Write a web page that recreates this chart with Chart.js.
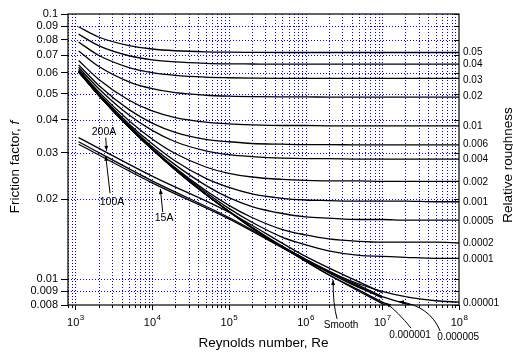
<!DOCTYPE html>
<html><head><meta charset="utf-8">
<script src="https://cdn.jsdelivr.net/npm/chart.js@4/dist/chart.umd.min.js"></script>
<style>html,body{margin:0;padding:0;background:#fff;}#c{display:block;}</style>
</head><body>
<canvas id="c" width="513" height="352"></canvas>
<script>
// ---------- data ----------
const reynolds = [1100, 2000, 5000, 1e4, 2e4, 5e4, 1e5, 2e5, 5e5, 1e6, 2e6, 5e6, 1e7, 2e7, 5e7, 1e8];

const f_0_05     = [0.0895,0.0819,0.0760,0.0738,0.0727,0.0720,0.0718,0.0717,0.0716,0.0716,0.0716,0.0716,0.0716,0.0716,0.0716,0.0716];
const f_0_04     = [0.0840,0.0760,0.0696,0.0672,0.0660,0.0652,0.0649,0.0648,0.0647,0.0647,0.0647,0.0647,0.0647,0.0647,0.0647,0.0647];
const f_0_03     = [0.0784,0.0699,0.0628,0.0601,0.0587,0.0578,0.0575,0.0573,0.0572,0.0572,0.0572,0.0572,0.0572,0.0572,0.0572,0.0572];
const f_0_02     = [0.0726,0.0635,0.0555,0.0523,0.0505,0.0494,0.0490,0.0488,0.0487,0.0487,0.0486,0.0486,0.0486,0.0486,0.0486,0.0486];
const f_0_01     = [0.0668,0.0568,0.0473,0.0431,0.0407,0.0391,0.0385,0.0382,0.0380,0.0380,0.0379,0.0379,0.0379,0.0379,0.0379,0.0379];
const f_0_006    = [0.0643,0.0539,0.0436,0.0388,0.0358,0.0337,0.0330,0.0325,0.0323,0.0322,0.0322,0.0321,0.0321,0.0321,0.0321,0.0321];
const f_0_004    = [0.0630,0.0524,0.0416,0.0364,0.0330,0.0305,0.0295,0.0290,0.0286,0.0285,0.0285,0.0284,0.0284,0.0284,0.0284,0.0284];
const f_0_002    = [0.0619,0.0510,0.0396,0.0338,0.0298,0.0265,0.0251,0.0243,0.0238,0.0236,0.0235,0.0235,0.0234,0.0234,0.0234,0.0234];
const f_0_001    = [0.0612,0.0503,0.0385,0.0324,0.0279,0.0240,0.0222,0.0210,0.0202,0.0199,0.0198,0.0197,0.0197,0.0197,0.0196,0.0196];
const f_0_0005   = [0.0609,0.0498,0.0380,0.0316,0.0270,0.0226,0.0203,0.0188,0.0177,0.0172,0.0170,0.0168,0.0168,0.0167,0.0167,0.0167];
const f_0_0002   = [0.0607,0.0496,0.0376,0.0312,0.0263,0.0216,0.0190,0.0171,0.0154,0.0147,0.0142,0.0139,0.0138,0.0138,0.0138,0.0137];
const f_0_0001   = [0.0606,0.0495,0.0375,0.0310,0.0261,0.0213,0.0185,0.0164,0.0144,0.0135,0.0128,0.0123,0.0122,0.0121,0.0120,0.0120];
const f_0_00001  = [0.0606,0.0495,0.0374,0.0309,0.0259,0.0209,0.0181,0.0157,0.0133,0.0119,0.0107,0.0096,0.0090,0.0086,0.0083,0.0082];
const f_0_000005 = [0.0606,0.0495,0.0374,0.0309,0.0259,0.0209,0.0180,0.0157,0.0132,0.0118,0.0106,0.0093,0.0086,0.0081,0.0077,null];
const f_0_000001 = [0.0606,0.0495,0.0374,0.0309,0.0259,0.0209,0.0180,0.0156,0.0132,0.0117,0.0104,0.0091,0.0082,0.0075,null,null];
const f_smooth   = [0.0606,0.0495,0.0374,0.0309,0.0259,0.0209,0.0180,0.0156,0.0132,0.0117,0.0104,0.0090,0.0081,0.0073,null,null];

const pipeReynolds = [1100, 1e4, 1e5, 1e6, 1e7];
const f_200A = [0.0342, 0.0245, 0.0179, 0.0122, 0.0089];
const f_100A = [0.0330, 0.0235, 0.0171, 0.0119, 0.0086];
const f_15A  = [0.0323, 0.0231, 0.0169, 0.0118, 0.0085];

const yTickValues = [0.008,0.009,0.01,0.02,0.03,0.04,0.05,0.06,0.07,0.08,0.09,0.1];
const yTickLabels = ['0.008','0.009','0.01','0.02','0.03','0.04','0.05','0.06','0.07','0.08','0.09','0.1'];
const yGridValues = [0.009,0.01,0.02,0.03,0.04,0.05,0.06,0.07,0.08,0.09];
const xTickExponents = [3,4,5,6,7,8];

const roughnessLabels = ['0.05','0.04','0.03','0.02','0.01','0.006','0.004','0.002','0.001','0.0005','0.0002','0.0001','0.00001'];
const roughnessLabelAt = [0.0719,0.0648,0.0565,0.0488,0.0379,0.0322,0.0284,0.0232,0.0196,0.0166,0.0137,0.0119,0.0081];

// annotation texts with arrows (positions in data units: [Re, f])
const notes = [
  {text:'200A', at:[2360,0.0358], from:[2483,0.0342], to:[2544,0.0305]},
  {text:'100A', at:[3000,0.0196], from:[2826,0.0211], to:[2483,0.0292]},
  {text:'15A', at:[14290,0.0170], from:[13750,0.0179], to:[12800,0.0219]},
  {text:'Smooth', at:[2.90e6,0.00672], from:[2.575e6,0.00709], via:[2.28e6,0.0080], to:[2.283e6,0.00994]},
  {text:'0.000001', at:[2.30e7,0.00617], from:[2.367e7,0.00655], via:[1.607e7,0.00753], to:[1.117e7,0.00814]},
  {text:'0.000005', at:[9.77e7,0.00606], from:[5.685e7,0.00638], via:[4.2e7,0.00793], to:[1.646e7,0.00825]}
];

// ---------- build datasets ----------
const curveSeries = [f_0_05,f_0_04,f_0_03,f_0_02,f_0_01,f_0_006,f_0_004,f_0_002,f_0_001,f_0_0005,f_0_0002,f_0_0001,f_0_00001,f_0_000005,f_0_000001,f_smooth];
const toPoints = (xs, ys) => xs.map((x,i)=>({x, y: ys[i]})).filter(p => p.y !== null);
const datasets = curveSeries.map(vals => ({
  data: toPoints(reynolds, vals), borderColor:'#000', borderWidth:1.3,
  pointRadius:0, fill:false, cubicInterpolationMode:'monotone'
}));
[f_200A,f_100A,f_15A].forEach(vals => datasets.push({
  data: toPoints(pipeReynolds, vals), borderColor:'#000', borderWidth:1.3,
  pointRadius:0, fill:false, cubicInterpolationMode:'monotone'
}));

const FONT = '"Liberation Sans", Arial, Helvetica, sans-serif';

function arrowHead(ctx, fx, fy, tx, ty){
  const ang = Math.atan2(ty-fy, tx-fx), L=5, W=2;
  ctx.beginPath();
  ctx.moveTo(tx, ty);
  ctx.lineTo(tx - L*Math.cos(ang) + W*Math.sin(ang), ty - L*Math.sin(ang) - W*Math.cos(ang));
  ctx.lineTo(tx - L*Math.cos(ang) - W*Math.sin(ang), ty - L*Math.sin(ang) + W*Math.cos(ang));
  ctx.closePath(); ctx.fill();
}

const decor = {
  id:'decor',
  beforeDatasetsDraw(chart){
    const {ctx, chartArea:a, scales:{x,y}} = chart;
    ctx.save();
    ctx.beginPath(); ctx.rect(a.left,a.top,a.right-a.left,a.bottom-a.top); ctx.clip();
    ctx.strokeStyle='#0000ff'; ctx.lineWidth=1; ctx.setLineDash([1,2]);
    for (let e=2;e<=7;e++) for (let m=1;m<=9;m++){
      const v=m*Math.pow(10,e); if (v<x.min||v>=x.max) continue;
      const px=Math.round(x.getPixelForValue(v))+0.5;
      ctx.beginPath(); ctx.moveTo(px,a.top); ctx.lineTo(px,a.bottom); ctx.stroke();
    }
    yGridValues.forEach(v=>{
      const py=Math.round(y.getPixelForValue(v))+0.5;
      ctx.beginPath(); ctx.moveTo(a.left,py); ctx.lineTo(a.right,py); ctx.stroke();
    });
    ctx.restore();
  },
  afterDatasetsDraw(chart){
    const {ctx, chartArea:a, scales:{x,y}} = chart;
    ctx.save();
    // frame
    ctx.strokeStyle='#000'; ctx.lineWidth=1.2; ctx.setLineDash([]);
    ctx.strokeRect(a.left, a.top, a.right-a.left, a.bottom-a.top);
    // x ticks
    ctx.lineWidth=1;
    for (let e=2;e<=8;e++) for (let m=1;m<=9;m++){
      const v=m*Math.pow(10,e); if (v<x.min||v>x.max) continue;
      const px=Math.round(x.getPixelForValue(v))+0.5;
      const len = m===1?5:3;
      ctx.beginPath(); ctx.moveTo(px,a.bottom); ctx.lineTo(px,a.bottom+len); ctx.stroke();
    }
    // right inward ticks
    yTickValues.forEach(v=>{
      const py=Math.round(y.getPixelForValue(v))+0.5;
      ctx.beginPath(); ctx.moveTo(a.right,py); ctx.lineTo(a.right-5,py); ctx.stroke();
    });
    // x tick labels with superscripts
    ctx.fillStyle='#000'; ctx.textBaseline='alphabetic'; ctx.textAlign='left';
    xTickExponents.forEach(e=>{
      const px=x.getPixelForValue(Math.pow(10,e));
      ctx.font='11px '+FONT; const w1=ctx.measureText('10').width;
      ctx.font='8px '+FONT; const w2=ctx.measureText(String(e)).width;
      const sx=px-(w1+w2)/2;
      ctx.font='11px '+FONT; ctx.fillText('10', sx, a.bottom+21);
      ctx.font='8px '+FONT; ctx.fillText(String(e), sx+w1+0.5, a.bottom+15);
    });
    // roughness labels
    ctx.font='10px '+FONT; ctx.textBaseline='middle'; ctx.textAlign='left';
    roughnessLabels.forEach((t,i)=>{
      ctx.fillText(t, a.right+4, y.getPixelForValue(roughnessLabelAt[i]));
    });
    // axis titles
    ctx.font='13.5px '+FONT; ctx.textAlign='center'; ctx.textBaseline='middle';
    ctx.fillText('Reynolds number, Re', (a.left+a.right)/2, 343);
    ctx.save(); ctx.translate(508, 165); ctx.rotate(-Math.PI/2);
    ctx.fillText('Relative roughness', 0, 0); ctx.restore();
    ctx.save(); ctx.translate(15, 167); ctx.rotate(-Math.PI/2);
    const t1='Friction factor, ';
    ctx.font='13.5px '+FONT; const wa=ctx.measureText(t1).width;
    ctx.font='italic 13.5px '+FONT; const wb=ctx.measureText('f').width;
    ctx.textAlign='left';
    ctx.font='13.5px '+FONT; ctx.fillText(t1, -(wa+wb)/2, 0);
    ctx.font='italic 13.5px '+FONT; ctx.fillText('f', -(wa+wb)/2+wa, 0);
    ctx.restore();
    // annotations
    ctx.lineWidth=1; ctx.strokeStyle='#000'; ctx.fillStyle='#000';
    notes.forEach(n=>{
      const P=p=>[x.getPixelForValue(p[0]), y.getPixelForValue(p[1])];
      const [lx,ly]=P(n.at), [fx,fy]=P(n.from), [tx,ty]=P(n.to);
      ctx.font=(n.text.length<=4?'10.5px ':'10px ')+FONT; ctx.textAlign='center'; ctx.textBaseline='middle';
      ctx.fillText(n.text, lx, ly);
      ctx.beginPath(); ctx.moveTo(fx,fy);
      let bx=fx, by=fy;
      if (n.via){ const [vx,vy]=P(n.via); ctx.quadraticCurveTo(vx,vy,tx,ty); bx=vx; by=vy; }
      else ctx.lineTo(tx,ty);
      ctx.stroke();
      arrowHead(ctx, bx, by, tx, ty);
    });
    ctx.restore();
  }
};

new Chart(document.getElementById('c'), {
  type:'line',
  data:{datasets},
  options:{
    responsive:false, animation:false, devicePixelRatio:1,
    layout:{padding:{top:14,right:54,bottom:47,left:0}},
    plugins:{legend:{display:false}, tooltip:{enabled:false}},
    scales:{
      x:{type:'logarithmic', min:800, max:1e8, display:false},
      y:{type:'logarithmic', min:0.008, max:0.1, position:'left',
        afterFit(s){ s.width=68; },
        afterBuildTicks(s){ s.ticks = yTickValues.map(v=>({value:v})); },
        ticks:{autoSkip:false, padding:3, color:'#000', font:{family:FONT, size:11},
          callback:(v)=>{ const i=yTickValues.indexOf(v); return i>=0?yTickLabels[i]:''; }},
        grid:{drawOnChartArea:false, drawTicks:true, tickLength:7, tickColor:'#000', color:'#000', lineWidth:1},
        border:{display:false}
      }
    }
  },
  plugins:[decor]
});
</script>
</body></html>
